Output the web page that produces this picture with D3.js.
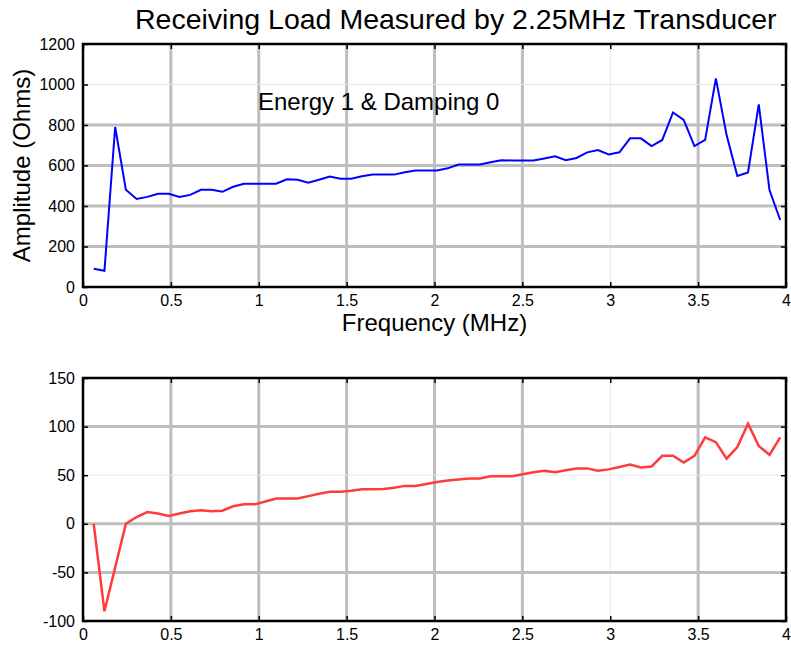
<!DOCTYPE html>
<html>
<head>
<meta charset="utf-8">
<script src="https://cdn.jsdelivr.net/npm/d3@7"></script>
<style>
  html, body { margin: 0; padding: 0; background: #ffffff; }
  svg { display: block; font-family: "Liberation Sans", Arial, Helvetica, sans-serif; }
</style>
</head>
<body>
<svg id="chart" width="791" height="646"></svg>
<script>
// ---------------- data ----------------
const freqMHz = [0.061,0.122,0.183,0.244,0.305,0.366,0.427,0.488,0.549,0.610,
  0.671,0.732,0.793,0.854,0.916,0.977,1.038,1.099,1.160,1.221,
  1.282,1.343,1.404,1.465,1.526,1.587,1.648,1.709,1.770,1.831,
  1.892,1.953,2.014,2.075,2.136,2.197,2.258,2.319,2.380,2.441,
  2.502,2.563,2.625,2.686,2.747,2.808,2.869,2.930,2.991,3.052,
  3.113,3.174,3.235,3.296,3.357,3.418,3.479,3.540,3.601,3.662,
  3.723,3.784,3.845,3.906,3.967];

const amplitudeOhms = [90,80,790,480,435,445,460,460,445,455,
  480,480,470,495,510,510,510,510,532,530,
  515,530,545,535,535,547,555,555,555,567,
  575,575,575,586,605,605,605,616,626,625,
  625,625,635,645,626,637,665,676,655,665,
  734,734,696,726,862,825,696,726,1030,750,
  548,566,902,479,331];

const lowerSeries = [0,-90,-45,0,7,12,10.5,8,10.5,13,
  14,13,13.5,18,20,20,23,26,26,26,
  28.5,31,33,33,34,35.5,35.6,35.7,37,39,
  39,41,43,44.5,45.5,46.5,46.6,49,49,49,
  51,53,54.5,53,55,57,57,54.5,56,58.5,
  61,58,59,70,70,63,70,89,84,67,
  79,103,80,71,89];

const xTicks = [0,0.5,1,1.5,2,2.5,3,3.5,4];
const yTicksTop = [0,200,400,600,800,1000,1200];
const yTicksBottom = [-100,-50,0,50,100,150];

const titleText = "Receiving Load Measured by 2.25MHz Transducer";
const annotationText = "Energy 1 & Damping 0";
const xLabelText = "Frequency (MHz)";
const yLabelText = "Amplitude (Ohms)";

// ---------------- layout / style ----------------
const svg = d3.select("#chart");
const L = 83, R = 786;
const topPanel = { y0: 44, y1: 287 };
const botPanel = { y0: 378, y1: 621 };
const lightX = new Set([3]);
const lightYTop = new Set([1000]);
const lightYBottom = new Set([50]);
const gridHeavy = "#bebebe", gridLight = "#e8e8e8";

const x = d3.scaleLinear().domain([0, 4]).range([L, R]);
const yTop = d3.scaleLinear().domain([0, 1200]).range([topPanel.y1, topPanel.y0]);
const yBot = d3.scaleLinear().domain([-100, 150]).range([botPanel.y1, botPanel.y0]);

function panel(yScale, yTicks, lightY, panelBox, values, color, lw) {
  const g = svg.append("g");
  // white background
  g.append("rect").attr("x", L).attr("y", panelBox.y0)
    .attr("width", R - L).attr("height", panelBox.y1 - panelBox.y0).attr("fill", "#fff");

  // vertical grid
  g.append("g").selectAll("line").data(xTicks.filter(t => t > 0 && t < 4)).join("line")
    .attr("x1", d => x(d)).attr("x2", d => x(d))
    .attr("y1", panelBox.y0).attr("y2", panelBox.y1)
    .attr("stroke", d => lightX.has(d) ? gridLight : gridHeavy)
    .attr("stroke-width", d => lightX.has(d) ? 1 : 3);
  // horizontal grid
  const yDom = yScale.domain();
  g.append("g").selectAll("line").data(yTicks.filter(t => t > yDom[0] && t < yDom[1])).join("line")
    .attr("x1", L).attr("x2", R)
    .attr("y1", d => yScale(d)).attr("y2", d => yScale(d))
    .attr("stroke", d => lightY.has(d) ? gridLight : gridHeavy)
    .attr("stroke-width", d => lightY.has(d) ? 1 : 3);

  // series line
  const line = d3.line().x((d, i) => x(freqMHz[i])).y(d => yScale(d));
  g.append("path").datum(values).attr("d", line)
    .attr("fill", "none").attr("stroke", color).attr("stroke-width", lw)
    .attr("stroke-linejoin", "miter");

  // axes with inward ticks
  const fmt = d => String(d);
  const axB = g.append("g").attr("transform", `translate(0,${panelBox.y1})`)
    .call(d3.axisBottom(x).tickValues(xTicks).tickSize(-5).tickPadding(8).tickFormat(fmt));
  const axT = g.append("g").attr("transform", `translate(0,${panelBox.y0})`)
    .call(d3.axisTop(x).tickValues(xTicks).tickSize(-5).tickFormat(""));
  const axL = g.append("g").attr("transform", `translate(${L},0)`)
    .call(d3.axisLeft(yScale).tickValues(yTicks).tickSize(-5).tickPadding(8).tickFormat(fmt));
  const axR = g.append("g").attr("transform", `translate(${R},0)`)
    .call(d3.axisRight(yScale).tickValues(yTicks).tickSize(-5).tickFormat(""));
  [axB, axT, axL, axR].forEach(a => {
    a.select(".domain").remove();
    a.selectAll(".tick line").attr("stroke", "#000").attr("stroke-width", 1.5);
    a.selectAll(".tick text").attr("fill", "#000").style("font-size", "16px")
      .style("font-family", "'Liberation Sans', Arial, sans-serif");
  });

  // frame
  g.append("rect").attr("x", L).attr("y", panelBox.y0)
    .attr("width", R - L).attr("height", panelBox.y1 - panelBox.y0)
    .attr("fill", "none").attr("stroke", "#000").attr("stroke-width", 2.5);
  return g;
}

panel(yTop, yTicksTop, lightYTop, topPanel, amplitudeOhms, "#0000ff", 2);
panel(yBot, yTicksBottom, lightYBottom, botPanel, lowerSeries, "#ff3b3b", 2.5);

// texts
svg.append("text").attr("x", 135).attr("y", 29).text(titleText)
  .style("font-size", "28.5px").attr("fill", "#000");
svg.append("text").attr("x", 258).attr("y", 110).text(annotationText)
  .style("font-size", "24px").attr("fill", "#000");
svg.append("text").attr("x", (L + R) / 2).attr("y", 331).attr("text-anchor", "middle")
  .text(xLabelText).style("font-size", "24px").attr("fill", "#000");
svg.append("text").attr("transform", `translate(30,${(topPanel.y0 + topPanel.y1) / 2}) rotate(-90)`)
  .attr("text-anchor", "middle").text(yLabelText).style("font-size", "24px").attr("fill", "#000");
</script>
</body>
</html>
